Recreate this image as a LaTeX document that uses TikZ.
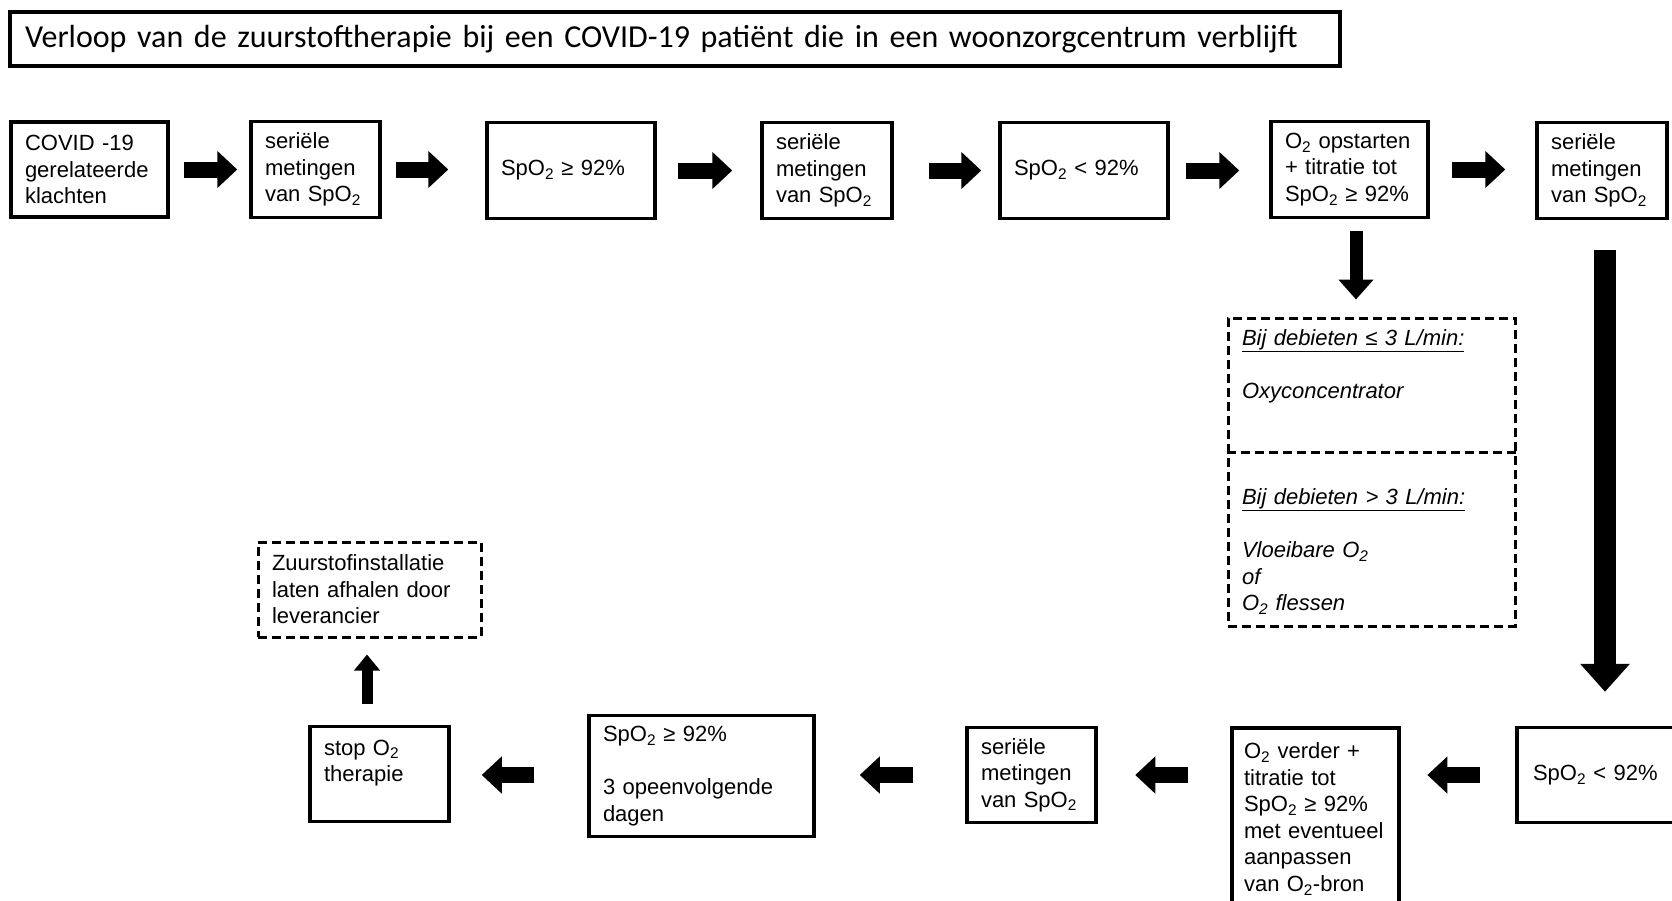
\documentclass[tikz,border=0pt]{standalone}
\usepackage{fontspec}
\setmainfont{Liberation Sans}
\newfontfamily\titlefont{Carlito}
\usetikzlibrary{arrows.meta,calc}
\newcommand{\Otw}{O\textsubscript{2}}
\begin{document}
\begin{tikzpicture}[x=1pt,y=-1pt,
  box/.style={draw, line width=3.5pt, inner xsep=14pt, inner ysep=0pt, align=left,
    font=\fontsize{22}{26.5}\selectfont},
  dbox/.style={box, line width=3pt, dash pattern=on 9pt off 5pt},
  dline/.style={line width=3pt, dash pattern=on 9pt off 5pt},
  harrow/.style={line width=16pt, -{Triangle[length=20pt,width=36pt]}},
  darrow/.style={line width=13pt, -{Triangle[length=20pt,width=34pt]}},
  larrow/.style={line width=22pt, -{Triangle[length=28pt,width=48pt]}},
  uarrow/.style={line width=11pt, -{Triangle[length=16pt,width=25pt]}}]
\useasboundingbox (0,0) rectangle (1672,900);
\fill[white] (0,0) rectangle (1672,900);

% title
\node[draw, line width=3.5pt, minimum height=54pt, inner xsep=15pt, text width=1300pt,
  align=left, font=\titlefont\fontsize{32}{38}\selectfont] (T) at (675,39)
  {\mbox{Verloop van de zuurstoftherapie bij een COVID-19 patiënt die in een woonzorgcentrum verblijft}};

% row 1
\node[box, text width=129pt, minimum height=95pt] (B1) at (89.5,169.5)
  {COVID -19\\gerelateerde\\klachten};
\node[box, text width=101pt, minimum height=96pt] (B2) at (315.5,169.5)
  {seriële\\metingen\\van Sp\Otw};
\node[box, text width=140pt, minimum height=96pt] (B3) at (571,170.5)
  {Sp\Otw{} ≥ 92\%};
\node[box, text width=102pt, minimum height=96pt] (B4) at (827,170.5)
  {seriële\\metingen\\van Sp\Otw};
\node[box, text width=140pt, minimum height=96pt] (B5) at (1084,170.5)
  {Sp\Otw{} < 92\%};
\node[box, text width=129pt, minimum height=96pt] (B6) at (1349.5,169.5)
  {\Otw{} opstarten\\+ titratie tot\\Sp\Otw{} ≥ 92\%};
\node[box, text width=102pt, minimum height=96pt] (B7) at (1602,170.5)
  {seriële\\metingen\\van Sp\Otw};

% dashed options box
\node[dbox, font=\itshape\fontsize{22}{26.5}\selectfont, text width=259pt, minimum height=308pt] (D) at (1371.5,472)
  {\underline{Bij debieten ≤ 3 L/min:}\\ \mbox{}\\ Oxyconcentrator\\ \mbox{}\\ \mbox{}\\ \mbox{}\\
   \underline{Bij debieten > 3 L/min:}\\ \mbox{}\\ Vloeibare \Otw\\ of\\ \Otw{} flessen};
\draw[dline] ($(D.north west)!0.438!(D.south west)$) -- ($(D.north east)!0.438!(D.south east)$);

% row 2
\node[box, inner xsep=16pt, text width=151pt, minimum height=95pt] (R1) at (1608.5,775)
  {Sp\Otw{} < 92\%};
\node[box, inner xsep=12pt, text width=143pt, minimum height=182pt] (R2) at (1315.5,819)
  {\Otw{} verder +\\titratie tot\\Sp\Otw{} ≥ 92\%\\met eventueel\\aanpassen\\van \Otw-bron};
\node[box, text width=101pt, minimum height=95pt] (R3) at (1031.5,775)
  {seriële\\metingen\\van Sp\Otw};
\node[box, text width=197pt, minimum height=121pt] (R4) at (701.5,776)
  {Sp\Otw{} ≥ 92\%\\ \mbox{}\\ 3 opeenvolgende\\dagen};
\node[box, text width=111pt, minimum height=95pt] (R5) at (379.5,774)
  {stop \Otw\\therapie\\ \mbox{}};
\node[dbox, text width=195pt, minimum height=95pt] (U) at (369.5,589.5)
  {Zuurstofinstallatie\\laten afhalen door\\leverancier};

% row 1 arrows
\draw[harrow] ($(B1.east)+(14,0)$) -- ($(B2.west)+(-12,0)$);
\draw[harrow] ($(B2.east)+(14,0)$) -- ($(B3.west|-B2.east)+(-37,0)$);
\draw[harrow] ($(B3.east)+(21,0)$) -- ($(B4.west)+(-28,0)$);
\draw[harrow] ($(B4.east)+(35,0)$) -- ($(B5.west)+(-17,0)$);
\draw[harrow] ($(B5.east)+(16,0)$) -- ($(B6.west|-B5.east)+(-30,0)$);
\draw[harrow] ($(B6.east)+(22,0)$) -- ($(B7.west|-B6.east)+(-30,0)$);

% vertical arrows
\draw[darrow] ($(B6.south)+(6.5,11.5)$) -- ($(B6.south|-D.north)+(6.5,-17)$);
\draw[larrow] ($(B7.south)+(3,29.5)$) -- ($(B7.south|-R1.north)+(3,-34)$);

% row 2 arrows
\draw[harrow] ($(R1.west)+(-35,0)$) -- ($(R2.east|-R1.west)+(26.6,0)$);
\draw[harrow] ($(R2.west|-R1.west)+(-42,0)$) -- ($(R3.east)+(37.5,0)$);
\draw[harrow] ($(R3.west)+(-52,0)$) -- ($(R4.east|-R3.west)+(44,0)$);
\draw[harrow] ($(R4.west|-R3.west)+(-53,0)$) -- ($(R5.east|-R3.west)+(31,0)$);
\draw[uarrow] ($(R5.north)+(-12.5,-20.5)$) -- ($(R5.north|-U.south)+(-12.5,16)$);
\end{tikzpicture}
\end{document}
